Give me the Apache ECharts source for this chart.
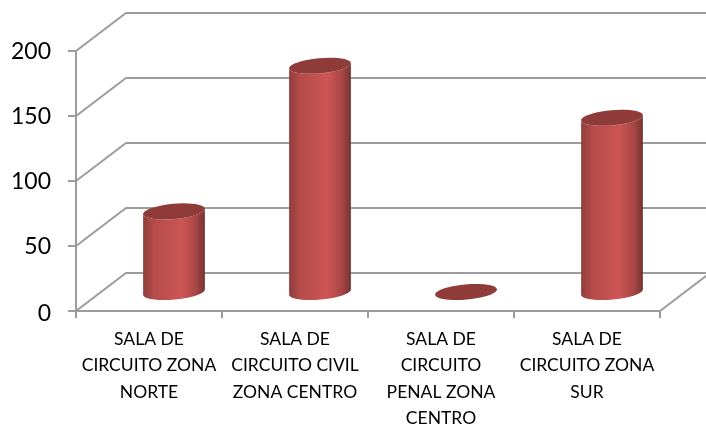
<!DOCTYPE html>
<html>
<head>
<meta charset="utf-8">
<style>html,body{margin:0;padding:0;background:#fff}#chart{width:706px;height:426px}</style>
<script src="https://cdn.jsdelivr.net/npm/echarts@6/dist/echarts.min.js"></script>
</head>
<body>
<div id="chart"></div>
<script>
const categories = [
  'SALA DE\nCIRCUITO ZONA\nNORTE',
  'SALA DE\nCIRCUITO CIVIL\nZONA CENTRO',
  'SALA DE\nCIRCUITO\nPENAL ZONA\nCENTRO',
  'SALA DE\nCIRCUITO ZONA\nSUR'
]
const values = [62, 174, 0, 134]
const yTicks = [0, 50, 100, 150, 200]

const gridColor = '#9c9c9c'
// 3D look: how far the back wall sits from the front plane
const depthX = 50
const depthY = -38
const tilt = 0.09

function ellipsePoints(cx, cy, rx, ry, from, to) {
  const pts = []
  const cos = Math.cos(tilt)
  const sin = Math.sin(tilt)
  for (let i = 0; i <= 40; i++) {
    const t = from + (to - from) * i / 40
    const x = rx * Math.cos(t)
    const y = ry * Math.sin(t)
    pts.push([cx + x * cos + y * sin, cy - x * sin + y * cos])
  }
  return pts
}

function renderWall(params, api) {
  const p = api.coord([0, api.value(1)])
  const band = api.size([1, 0])[0]
  const left = p[0] - band / 2
  const right = left + band * categories.length
  const pts = [[left, p[1]], [left + depthX, p[1] + depthY], [right + depthX, p[1] + depthY]]
  const children = [{
    type: 'polyline',
    shape: { points: pts },
    style: { stroke: gridColor, lineWidth: 2, fill: null }
  }]
  if (api.value(1) === 0) {
    children.push({
      type: 'line',
      shape: { x1: right, y1: p[1], x2: right + depthX, y2: p[1] + depthY },
      style: { stroke: gridColor, lineWidth: 2 }
    })
  }
  return { type: 'group', children }
}

function renderCylinder(params, api) {
  const top = api.coord([api.value(0), api.value(1)])
  const base = api.coord([api.value(0), 0])
  const cx = top[0] + depthX / 2
  const rx = 31
  const ry = 7.6
  const yTop = top[1] + depthY / 2
  const yBase = base[1] + depthY / 2
  const body = ellipsePoints(cx, yBase, rx, ry, 0, Math.PI)
    .concat(ellipsePoints(cx, yTop, rx, ry, Math.PI, 0))
  return {
    type: 'group',
    children: [
      {
        type: 'polygon',
        shape: { points: body },
        style: {
          fill: new echarts.graphic.LinearGradient(0, 0, 1, 0, [
            { offset: 0, color: '#8f3d3c' },
            { offset: 0.18, color: '#b54c4b' },
            { offset: 0.62, color: '#cd5555' },
            { offset: 0.85, color: '#a84746' },
            { offset: 1, color: '#763331' }
          ])
        }
      },
      {
        type: 'polygon',
        shape: { points: ellipsePoints(cx, yTop, rx, ry, 0, Math.PI * 2) },
        style: { fill: '#8f3b3a' }
      }
    ]
  }
}

const chart = echarts.init(document.getElementById('chart'), undefined, { renderer: 'canvas' })
chart.setOption({
  animation: false,
  grid: { left: 76, right: 46, top: 51, bottom: 115, outerBoundsMode: 'none' },
  xAxis: {
    type: 'category',
    data: categories,
    axisLine: { lineStyle: { color: gridColor, width: 2 } },
    axisTick: { show: true, length: 7, lineStyle: { color: gridColor, width: 2 } },
    axisLabel: {
      color: '#000',
      fontFamily: 'Lato',
      fontSize: 17.5,
      lineHeight: 26.5,
      margin: 15,
      interval: 0
    }
  },
  yAxis: {
    type: 'value',
    min: 0,
    max: 200,
    interval: 50,
    axisLine: { show: true, lineStyle: { color: gridColor, width: 2 } },
    axisTick: { show: true, length: 8, lineStyle: { color: gridColor, width: 2 } },
    splitLine: { show: false },
    axisLabel: {
      color: '#000',
      fontFamily: 'Lato',
      fontSize: 23,
      margin: 25,
      padding: [2, 0, 0, 0],
      // the 0 label sits a little high otherwise
      formatter: (v) => (v === 0 ? '{zero|0}' : String(v)),
      rich: { zero: { fontFamily: 'Lato', fontSize: 23, color: '#000', padding: [4, 0, 0, 0] } }
    }
  },
  series: [
    {
      type: 'custom',
      silent: true,
      z: 1,
      renderItem: renderWall,
      encode: { x: 0, y: 1 },
      data: yTicks.map((v) => [0, v])
    },
    {
      type: 'custom',
      silent: true,
      z: 2,
      renderItem: renderCylinder,
      encode: { x: 0, y: 1 },
      data: values.map((v, i) => [i, v])
    }
  ]
})
</script>
</body>
</html>
